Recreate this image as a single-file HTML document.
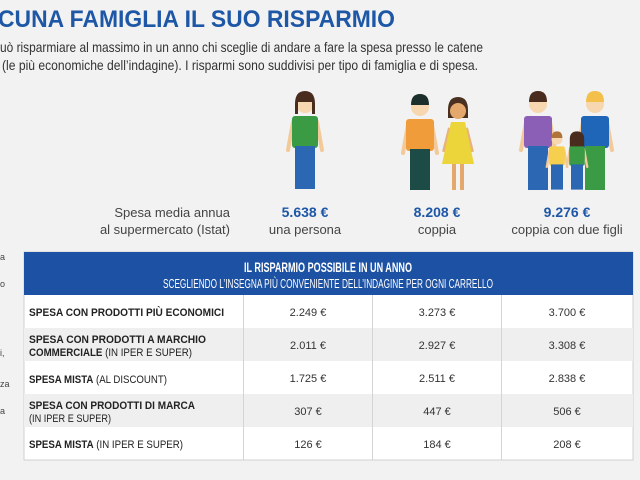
<!DOCTYPE html>
<html><head><meta charset="utf-8"><style>
html,body{margin:0;padding:0;background:#f2f2f2;}
svg{display:block}
text{font-family:"Liberation Sans",sans-serif;}
</style></head><body>
<svg width="640" height="480" viewBox="0 0 640 480">
<defs>
<g id="p">
 <line x1="-12" y1="30" x2="-17" y2="58" stroke="#f3c99a" stroke-width="4" stroke-linecap="round"/>
 <line x1="12" y1="30" x2="17" y2="58" stroke="#f3c99a" stroke-width="4" stroke-linecap="round"/>
 <circle cx="0" cy="12" r="9" fill="#f6d7b0"/>
</g>
</defs>
<rect width="640" height="480" fill="#f2f2f2"/>
<text x="-2" y="27" font-size="24" font-weight="bold" fill="#1d57a6" textLength="397" lengthAdjust="spacingAndGlyphs">CUNA FAMIGLIA IL SUO RISPARMIO</text>
<text x="0" y="52" font-size="14" fill="#333" textLength="483" lengthAdjust="spacingAndGlyphs">uò risparmiare al massimo in un anno chi sceglie di andare a fare la spesa presso le catene</text>
<text x="2" y="70" font-size="14" fill="#333" textLength="476" lengthAdjust="spacingAndGlyphs">(le più economiche dell’indagine). I risparmi sono suddivisi per tipo di famiglia e di spesa.</text>

<g transform="translate(305,92)">
 <use href="#p"/>
 <path d="M-10 12 Q-10 -1 0 -1 Q10 -1 10 12 L10 22 L7 22 L7 10 L-7 10 L-7 22 L-10 22Z" fill="#4a2c1e"/>
 <rect x="-13" y="24" width="26" height="32" rx="3" fill="#3a9b44"/>
 <rect x="-10" y="54" width="20" height="43" fill="#2b67b3"/>
</g>
<g transform="translate(420,95)">
 <use href="#p"/>
 <path d="M-9 10 Q-9 -1 0 -1 Q9 -1 9 10 Z" fill="#1d2f2a"/>
 <rect x="-14" y="24" width="28" height="32" rx="3" fill="#f19c3b"/>
 <rect x="-10" y="54" width="20" height="41" fill="#1d4b45"/>
</g>
<g transform="translate(458,98)">
 <line x1="-8" y1="30" x2="-14" y2="54" stroke="#e7b27c" stroke-width="4"/>
 <line x1="8" y1="30" x2="14" y2="54" stroke="#e7b27c" stroke-width="4"/>
 <path d="M-10 12 Q-10 -1 0 -1 Q10 -1 10 12 L10 20 L-10 20Z" fill="#4a3020"/>
 <circle cx="0" cy="13" r="8" fill="#e4a86c"/>
 <path d="M-7 24 L7 24 L16 66 L-16 66Z" fill="#ecd53a"/>
 <rect x="-6" y="66" width="4" height="26" fill="#e4a86c"/>
 <rect x="2" y="66" width="4" height="26" fill="#e4a86c"/>
</g>
<g transform="translate(538,92)">
 <use href="#p"/>
 <path d="M-9 10 Q-9 -1 0 -1 Q9 -1 9 10 Z" fill="#4a2c1e"/>
 <rect x="-14" y="24" width="28" height="32" rx="3" fill="#8a5fb5"/>
 <rect x="-10" y="54" width="20" height="44" fill="#2b67b3"/>
</g>
<g transform="translate(595,92)">
 <use href="#p"/>
 <path d="M-9 10 Q-9 -1 0 -1 Q9 -1 9 10 Z" fill="#f4c04c"/>
 <rect x="-14" y="24" width="28" height="32" rx="3" fill="#1f66b8"/>
 <rect x="-10" y="54" width="20" height="44" fill="#3a9b44"/>
</g>
<g transform="translate(557,132) scale(0.6)">
 <use href="#p"/>
 <path d="M-9 10 Q-9 -1 0 -1 Q9 -1 9 10 Z" fill="#b0733a"/>
 <rect x="-13" y="24" width="26" height="32" rx="3" fill="#f6cf4e"/>
 <rect x="-10" y="54" width="20" height="42" fill="#2b67b3"/>
</g>
<g transform="translate(577,132) scale(0.6)">
 <use href="#p"/>
 <path d="M-12 12 Q-12 -1 0 -1 Q12 -1 12 12 L12 26 L-12 26Z" fill="#4a2c1e"/>
 <rect x="-13" y="24" width="26" height="32" rx="3" fill="#3a9b44"/>
 <rect x="-10" y="54" width="20" height="42" fill="#2b67b3"/>
</g>

<text x="230" y="217" font-size="13" fill="#444" text-anchor="end">Spesa media annua</text>
<text x="230" y="234" font-size="13" fill="#444" text-anchor="end">al supermercato (Istat)</text>
<text x="305" y="217" font-size="14" font-weight="bold" fill="#1d57a6" text-anchor="middle">5.638 €</text>
<text x="305" y="234" font-size="13" fill="#444" text-anchor="middle">una persona</text>
<text x="437" y="217" font-size="14" font-weight="bold" fill="#1d57a6" text-anchor="middle">8.208 €</text>
<text x="437" y="234" font-size="13" fill="#444" text-anchor="middle">coppia</text>
<text x="567" y="217" font-size="14" font-weight="bold" fill="#1d57a6" text-anchor="middle">9.276 €</text>
<text x="567" y="234" font-size="13" fill="#444" text-anchor="middle">coppia con due figli</text>

<g font-size="9" fill="#444">
<text x="0" y="260">a</text><text x="0" y="287">o</text><text x="0" y="356">i,</text><text x="0" y="387">za</text><text x="0" y="414">a</text>
</g>

<rect x="24" y="252" width="609" height="208" fill="#fff" stroke="#d0d0d0"/>
<rect x="24" y="252" width="609" height="43" fill="#1c51a3"/>
<text x="328" y="272" font-size="13.5" font-weight="bold" fill="#fff" text-anchor="middle" textLength="168" lengthAdjust="spacingAndGlyphs">IL RISPARMIO POSSIBILE IN UN ANNO</text>
<text x="328" y="288" font-size="13" fill="#fff" text-anchor="middle" textLength="330" lengthAdjust="spacingAndGlyphs">SCEGLIENDO L’INSEGNA PIÙ CONVENIENTE DELL’INDAGINE PER OGNI CARRELLO</text>
<rect x="24" y="328" width="609" height="33" fill="#efefef"/>
<rect x="24" y="394" width="609" height="33" fill="#efefef"/>
<g stroke="#d4d4d4">
<line x1="243.5" y1="295" x2="243.5" y2="460"/>
<line x1="372.5" y1="295" x2="372.5" y2="460"/>
<line x1="501.5" y1="295" x2="501.5" y2="460"/>
</g>
<g font-size="11" fill="#222">
<text x="29" y="316" font-weight="bold" textLength="195" lengthAdjust="spacingAndGlyphs">SPESA CON PRODOTTI PIÙ ECONOMICI</text>
<text x="29" y="343" font-weight="bold" textLength="177" lengthAdjust="spacingAndGlyphs">SPESA CON  PRODOTTI A MARCHIO</text>
<text x="29" y="356" textLength="163" lengthAdjust="spacingAndGlyphs"><tspan font-weight="bold">COMMERCIALE</tspan> (IN IPER E SUPER)</text>
<text x="29" y="383" textLength="138" lengthAdjust="spacingAndGlyphs"><tspan font-weight="bold">SPESA MISTA</tspan> (AL DISCOUNT)</text>
<text x="29" y="409" font-weight="bold" textLength="166" lengthAdjust="spacingAndGlyphs">SPESA CON PRODOTTI DI MARCA</text>
<text x="29" y="422" textLength="82" lengthAdjust="spacingAndGlyphs">(IN IPER E SUPER)</text>
<text x="29" y="448" textLength="154" lengthAdjust="spacingAndGlyphs"><tspan font-weight="bold">SPESA MISTA</tspan> (IN IPER E SUPER)</text>
</g>
<g font-size="11" fill="#333" text-anchor="middle">
<text x="308" y="316">2.249 €</text><text x="437" y="316">3.273 €</text><text x="567" y="316">3.700 €</text>
<text x="308" y="349">2.011 €</text><text x="437" y="349">2.927 €</text><text x="567" y="349">3.308 €</text>
<text x="308" y="382">1.725 €</text><text x="437" y="382">2.511 €</text><text x="567" y="382">2.838 €</text>
<text x="308" y="415">307 €</text><text x="437" y="415">447 €</text><text x="567" y="415">506 €</text>
<text x="308" y="448">126 €</text><text x="437" y="448">184 €</text><text x="567" y="448">208 €</text>
</g>
</svg>
</body></html>
